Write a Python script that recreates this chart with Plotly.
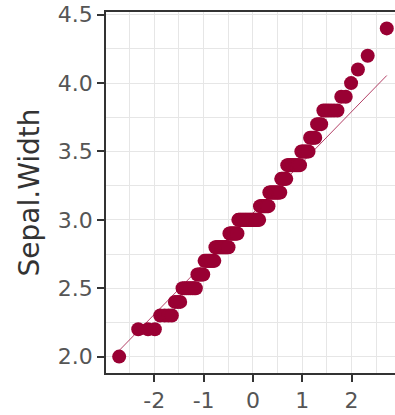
import numpy as np
import plotly.graph_objects as go
from statistics import NormalDist

# Sepal.Width values (iris) and how many times each occurs
width_values = [2.0, 2.2, 2.3, 2.4, 2.5, 2.6, 2.7, 2.8, 2.9, 3.0, 3.1, 3.2,
                3.3, 3.4, 3.5, 3.6, 3.7, 3.8, 3.9, 4.0, 4.1, 4.2, 4.4]
width_counts = [1, 3, 4, 3, 8, 5, 9, 14, 10, 26, 11, 13,
                6, 12, 6, 4, 3, 6, 2, 1, 1, 1, 1]

x_tick_vals = [-2, -1, 0, 1, 2]
x_tick_text = ["-2", "-1", "0", "1", "2"]
y_tick_vals = [2.0, 2.5, 3.0, 3.5, 4.0, 4.5]
y_tick_text = ["2.0", "2.5", "3.0", "3.5", "4.0", "4.5"]

# sample quantiles vs theoretical normal quantiles (ppoints)
sample = np.sort(np.repeat(width_values, width_counts))
n = len(sample)
nd = NormalDist()
theoretical = np.array([nd.inv_cdf((i - 0.5) / n) for i in range(1, n + 1)])

# reference line through the first and third quartiles
q1, q3 = np.percentile(sample, [25, 75])
z1, z3 = nd.inv_cdf(0.25), nd.inv_cdf(0.75)
slope = (q3 - q1) / (z3 - z1)
intercept = q1 - slope * z1
line_x = np.array([theoretical.min(), theoretical.max()])
line_y = intercept + slope * line_x

point_color = "#990033"
grid_color = "#e6e6e6"
axis_color = "#333333"

fig = go.Figure()
fig.add_trace(go.Scatter(
    x=theoretical, y=sample, mode="markers",
    marker=dict(color=point_color, size=14, line=dict(width=0)),
    showlegend=False, hoverinfo="skip",
))
fig.add_trace(go.Scatter(
    x=line_x, y=line_y, mode="lines",
    line=dict(color="rgba(153,0,51,0.75)", width=1),
    showlegend=False, hoverinfo="skip",
))

tick_font = dict(family="DejaVu Sans", size=22, color="#555555")

fig.update_layout(
    width=395, height=415,
    margin=dict(l=106, r=0, t=12, b=42),
    paper_bgcolor="white", plot_bgcolor="white",
    xaxis=dict(
        range=[-2.98, 2.88],
        tickvals=x_tick_vals, ticktext=x_tick_text,
        tickfont=tick_font,
        ticks="outside", ticklen=7, tickwidth=1.5, tickcolor=axis_color,
        showline=True, linecolor=axis_color, linewidth=1.5, mirror=True,
        showgrid=True, gridcolor=grid_color, gridwidth=1.4,
        minor=dict(tickvals=[-2.5, -1.5, -0.5, 0.5, 1.5, 2.5],
                   showgrid=True, gridcolor=grid_color, gridwidth=1.4),
        zeroline=False,
    ),
    yaxis=dict(
        range=[1.88, 4.52],
        tickvals=y_tick_vals, ticktext=y_tick_text,
        tickfont=tick_font,
        ticks="outside", ticklen=7, tickwidth=1.5, tickcolor=axis_color,
        showline=True, linecolor=axis_color, linewidth=1.5,
        showgrid=True, gridcolor=grid_color, gridwidth=1.4,
        minor=dict(tickvals=[2.25, 2.75, 3.25, 3.75, 4.25],
                   showgrid=True, gridcolor=grid_color, gridwidth=1.4),
        zeroline=False,
        title=dict(text="Sepal.Width", standoff=10,
                   font=dict(family="DejaVu Sans", size=28, color="#333333")),
    ),
)

fig.write_html("out.html")
